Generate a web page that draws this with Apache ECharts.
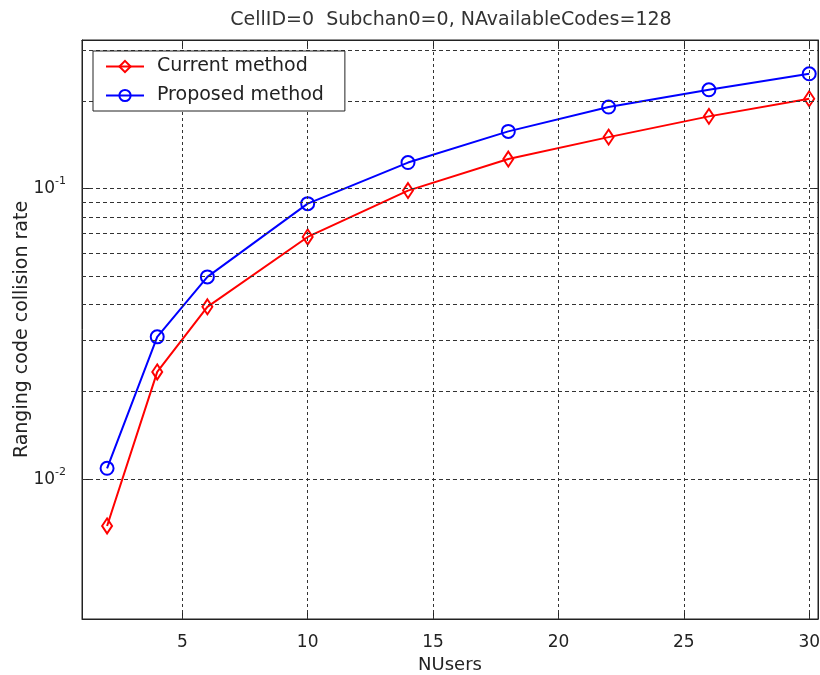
<!DOCTYPE html>
<html>
<head>
<meta charset="utf-8">
<script src="https://cdn.jsdelivr.net/npm/echarts@6/dist/echarts.min.js"></script>
<style>html,body{margin:0;padding:0;background:#fff}#chart{width:820px;height:675px}</style>
</head>
<body>
<div id="chart"></div>
<script>
var nUsers = [2, 4, 6, 10, 14, 18, 22, 26, 30];
var currentMethod = [0.0069, 0.0234, 0.0392, 0.0682, 0.0985, 0.1265, 0.1505, 0.1774, 0.204];
var proposedMethod = [0.0109, 0.0309, 0.0497, 0.0888, 0.123, 0.1575, 0.191, 0.219, 0.2486];
var xTicks = [5, 10, 15, 20, 25, 30];
var yGridValues = [0.004, 0.005, 0.006, 0.007, 0.008, 0.009, 0.01, 0.02, 0.03, 0.04, 0.05, 0.06, 0.07, 0.08, 0.09, 0.1, 0.2, 0.3];
var seriesNames = ['Current method', 'Proposed method'];
var titleText = 'CellID=0  Subchan0=0, NAvailableCodes=128';

var FONT = 'DejaVu Sans';
function pairs(xs, ys) { return xs.map(function (x, i) { return [x, ys[i]]; }); }

var chart = echarts.init(document.getElementById('chart'), null, { renderer: 'canvas' });
var gridLines = [];
yGridValues.forEach(function (v) { gridLines.push({ yAxis: v, lineStyle: { type: [4, 3] } }); });
xTicks.forEach(function (v) { gridLines.push({ xAxis: v, lineStyle: { type: [3, 3] } }); });

chart.setOption({
  animation: false,
  backgroundColor: '#fff',
  title: {
    text: titleText, left: 446, top: 6, textAlign: 'center',
    textStyle: { fontFamily: FONT, fontSize: 19, fontWeight: 'normal', color: '#333' }
  },
  grid: { left: 82, right: 2, top: 40, bottom: 56, outerBoundsMode: 'none', containLabel: false, show: true, borderColor: '#222', borderWidth: 1, backgroundColor: '#fff' },
  legend: {
    data: seriesNames, orient: 'vertical', left: 93, top: 51, zlevel: 1, z: 20,
    padding: [6, 21, 6, 12], itemGap: 10, itemWidth: 38, itemHeight: 14,
    borderColor: '#222', borderWidth: 1, backgroundColor: '#fff',
    textStyle: { fontFamily: FONT, fontSize: 19, color: '#222', padding: [0, 0, 0, 8] }
  },
  xAxis: [{
    type: 'value', position: 'bottom', min: 1, max: 30.35,
    name: 'NUsers', nameLocation: 'middle', nameGap: 33,
    nameTextStyle: { fontFamily: FONT, fontSize: 18, color: '#222' },
    axisLine: { show: true, lineStyle: { color: '#222' } },
    axisTick: { inside: true, length: 8, customValues: xTicks, lineStyle: { color: '#222' } },
    axisLabel: { customValues: xTicks, fontFamily: FONT, fontSize: 17, color: '#222', margin: 15 },
    splitLine: { show: false }
  }, {
    type: 'value', position: 'top', min: 1, max: 30.35,
    axisLine: { show: true, lineStyle: { color: '#222' } },
    axisTick: { inside: true, length: 8, customValues: xTicks, lineStyle: { color: '#222' } },
    axisLabel: { show: false },
    splitLine: { show: false }
  }],
  yAxis: [{
    type: 'log', logBase: 10, min: 0.0033, max: 0.325, position: 'left',
    name: 'Ranging code collision rate', nameLocation: 'middle', nameGap: 50, nameMoveOverlap: false,
    nameTextStyle: { fontFamily: FONT, fontSize: 19, color: '#222' },
    axisLine: { show: true, lineStyle: { color: '#222' } },
    axisTick: { inside: true, length: 8, lineStyle: { color: '#222' } },
    axisLabel: {
      showMinLabel: false, showMaxLabel: false, margin: 16,
      formatter: function (v) {
        var e = Math.log10(v);
        if (Math.abs(e - Math.round(e)) > 1e-6) return '';
        return '{b|10}{s|' + Math.round(e) + '}';
      },
      rich: {
        b: { fontFamily: FONT, fontSize: 17, color: '#222', lineHeight: 26 },
        s: { fontFamily: FONT, fontSize: 11, color: '#222', verticalAlign: 'top', lineHeight: 12 }
      }
    },
    splitLine: { show: false }
  }, {
    type: 'log', logBase: 10, min: 0.0033, max: 0.325, position: 'right',
    axisLine: { show: true, lineStyle: { color: '#222' } },
    axisTick: { inside: true, length: 8, lineStyle: { color: '#222' } },
    axisLabel: { show: false },
    splitLine: { show: false }
  }],
  series: [{
    name: 'grid', type: 'line', data: [], z: 1, silent: true,
    markLine: {
      silent: true, animation: false, symbol: ['none', 'none'],
      label: { show: false }, emphasis: { disabled: true },
      lineStyle: { color: '#333', width: 1 },
      data: gridLines
    }
  }, {
    name: seriesNames[0], type: 'line', data: pairs(nUsers, currentMethod),
    symbol: 'diamond', symbolSize: [10, 15], showAllSymbol: true,
    lineStyle: { color: '#ff0000', width: 2 },
    itemStyle: { color: 'rgba(255,255,255,0)', borderColor: '#ff0000', borderWidth: 2 },
    z: 3
  }, {
    name: seriesNames[1], type: 'line', data: pairs(nUsers, proposedMethod),
    symbol: 'circle', symbolSize: 13, showAllSymbol: true,
    lineStyle: { color: '#0000ff', width: 2 },
    itemStyle: { color: 'rgba(255,255,255,0)', borderColor: '#0000ff', borderWidth: 2 },
    z: 3
  }]
});
</script>
</body>
</html>
